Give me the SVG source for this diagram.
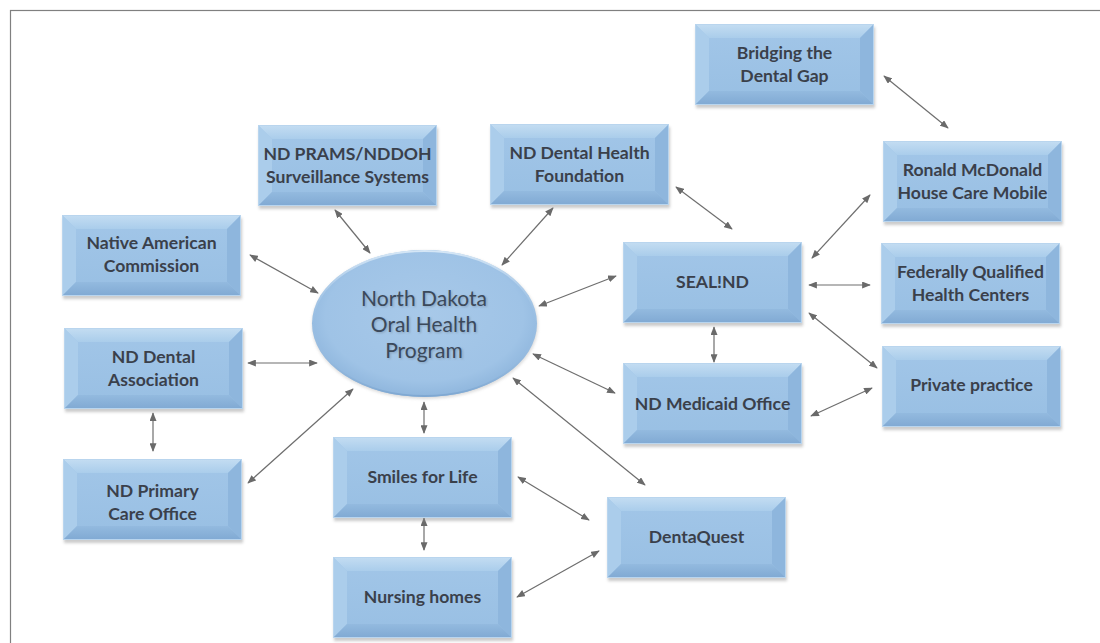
<svg xmlns="http://www.w3.org/2000/svg" xmlns:xlink="http://www.w3.org/1999/xlink" width="1100" height="643" viewBox="0 0 1100 643">
<style>
.lbl{font-family:Lato,"Open Sans","Liberation Sans",sans-serif;font-weight:bold;font-size:17.6px;fill:#3a404b;text-anchor:middle}
.hub{font-family:Lato,"Open Sans","Liberation Sans",sans-serif;font-size:21px;fill:#3b495b;text-anchor:middle}
.hubsh{font-family:Lato,"Open Sans","Liberation Sans",sans-serif;font-size:21px;fill:#6a7c90;opacity:0.5;text-anchor:middle}
.conn line{stroke:#6e6e6e;stroke-width:1.2;marker-start:url(#ah);marker-end:url(#ah)}
</style>
<defs>
<marker id="ah" viewBox="0 0 10 8" refX="9" refY="4" markerWidth="9" markerHeight="7" markerUnits="userSpaceOnUse" orient="auto-start-reverse">
<path d="M0,0 L10,4 L0,8 Z" fill="#6a6a6a"/>
</marker>
<filter id="sh" x="-10%" y="-10%" width="120%" height="130%"><feGaussianBlur stdDeviation="1.5"/></filter>
<filter id="tsh" x="-10%" y="-30%" width="120%" height="160%"><feGaussianBlur stdDeviation="0.8"/></filter>
<linearGradient id="gc" x1="0" y1="0" x2="0" y2="1"><stop offset="0" stop-color="#a2c6e8"/><stop offset="1" stop-color="#98bfe3"/></linearGradient>
<linearGradient id="gt" x1="0" y1="0" x2="0" y2="1"><stop offset="0" stop-color="#c4ddf2"/><stop offset="1" stop-color="#aacdeb"/></linearGradient>
<linearGradient id="gb" x1="0" y1="0" x2="0" y2="1"><stop offset="0" stop-color="#93badf"/><stop offset="1" stop-color="#80a9d3"/></linearGradient>
<radialGradient id="ge" cx="0.5" cy="0.45" r="0.55"><stop offset="0" stop-color="#a8c9e9"/><stop offset="0.8" stop-color="#9fc3e6"/><stop offset="1" stop-color="#8fb6dd"/></radialGradient>
<linearGradient id="ges" x1="0" y1="0" x2="0" y2="1"><stop offset="0" stop-color="#d6e7f6"/><stop offset="0.5" stop-color="#a9c9e8" stop-opacity="0"/><stop offset="1" stop-color="#7fa8d2"/></linearGradient>
<symbol id="box" viewBox="0 0 179 81" width="179" height="81" overflow="visible">
<rect x="1" y="3" width="179" height="81" fill="#8a8a8a" opacity="0.45" filter="url(#sh)"/>
<rect x="0" y="0" width="179" height="81" fill="url(#gc)"/>
<polygon points="0,0 179,0 165,14 14,14" fill="url(#gt)"/>
<polygon points="0,0 14,14 14,67 0,81" fill="#abcdeb"/>
<polygon points="179,0 179,81 165,67 165,14" fill="#8eb6dd"/>
<polygon points="0,81 14,67 165,67 179,81" fill="url(#gb)"/>
<rect x="0.5" y="0.5" width="178" height="80" fill="none" stroke="#b9d5ee" stroke-width="1"/>
</symbol>
</defs>
<rect width="1100" height="643" fill="#ffffff"/>
<rect x="10.5" y="10.5" width="1100" height="700" fill="none" stroke="#808080" stroke-width="1.2"/>

<g class="conn" id="connectors">
<line x1="335" y1="210" x2="370" y2="253"/>
<line x1="250" y1="255" x2="318" y2="293"/>
<line x1="553" y1="208" x2="502" y2="265"/>
<line x1="539" y1="306" x2="616" y2="276"/>
<line x1="533" y1="354" x2="615" y2="393"/>
<line x1="513" y1="378" x2="645" y2="485"/>
<line x1="424" y1="402" x2="424" y2="433"/>
<line x1="353" y1="389" x2="248" y2="483"/>
<line x1="248" y1="363" x2="317" y2="363"/>
<line x1="153" y1="413" x2="153" y2="451"/>
<line x1="424" y1="518" x2="424" y2="550"/>
<line x1="518" y1="477" x2="589" y2="520"/>
<line x1="517" y1="597" x2="599" y2="551"/>
<line x1="676" y1="187" x2="732" y2="229"/>
<line x1="884" y1="76" x2="948" y2="128"/>
<line x1="812" y1="258" x2="870" y2="195"/>
<line x1="809" y1="285" x2="870" y2="285"/>
<line x1="809" y1="313" x2="877" y2="368"/>
<line x1="714" y1="327" x2="714" y2="362"/>
<line x1="811" y1="416" x2="872" y2="388"/>
</g>

<g id="hub">
<ellipse cx="425" cy="325" rx="113" ry="74" fill="#9a9a9a" opacity="0.35" filter="url(#sh)"/>
<ellipse cx="424.5" cy="323.5" rx="112.5" ry="73.5" fill="url(#ge)"/>
<ellipse cx="424.5" cy="323.5" rx="111.5" ry="72.5" fill="none" stroke="url(#ges)" stroke-width="2"/>
<g filter="url(#tsh)">
<text class="hubsh" x="425.2" y="307.2">North Dakota</text>
<text class="hubsh" x="425.2" y="333.2">Oral Health</text>
<text class="hubsh" x="425.2" y="359.2">Program</text>
</g>
<text class="hub" x="424" y="306">North Dakota</text>
<text class="hub" x="424" y="332">Oral Health</text>
<text class="hub" x="424" y="358">Program</text>
</g>

<g id="bridging"><use xlink:href="#box" x="695" y="24"/><text class="lbl" x="784.5" y="59">Bridging the</text><text class="lbl" x="784.5" y="82">Dental Gap</text></g>
<g id="ronald"><use xlink:href="#box" x="883" y="141"/><text class="lbl" x="972.5" y="176">Ronald McDonald</text><text class="lbl" x="972.5" y="199">House Care Mobile</text></g>
<g id="fqhc"><use xlink:href="#box" x="881" y="243"/><text class="lbl" x="970.5" y="278">Federally Qualified</text><text class="lbl" x="970.5" y="301">Health Centers</text></g>
<g id="sealnd"><use xlink:href="#box" x="623" y="242"/><text class="lbl" x="712.5" y="288">SEAL!ND</text></g>
<g id="foundation"><use xlink:href="#box" x="490" y="124"/><text class="lbl" x="579.5" y="159">ND Dental Health</text><text class="lbl" x="579.5" y="182">Foundation</text></g>
<g id="prams"><use xlink:href="#box" x="258" y="125"/><text class="lbl" x="347.5" y="160">ND PRAMS/NDDOH</text><text class="lbl" x="347.5" y="183">Surveillance Systems</text></g>
<g id="native"><use xlink:href="#box" x="62" y="215"/><text class="lbl" x="151.5" y="249">Native American</text><text class="lbl" x="151.5" y="272">Commission</text></g>
<g id="dentalassoc"><use xlink:href="#box" x="64" y="328"/><text class="lbl" x="153.5" y="363">ND Dental</text><text class="lbl" x="153.5" y="386">Association</text></g>
<g id="primary"><use xlink:href="#box" x="63" y="459"/><text class="lbl" x="152.5" y="497">ND Primary</text><text class="lbl" x="152.5" y="520">Care Office</text></g>
<g id="smiles"><use xlink:href="#box" x="333" y="437"/><text class="lbl" x="422.5" y="483">Smiles for Life</text></g>
<g id="nursing"><use xlink:href="#box" x="333" y="557"/><text class="lbl" x="422.5" y="603">Nursing homes</text></g>
<g id="dentaquest"><use xlink:href="#box" x="607" y="497"/><text class="lbl" x="696.5" y="543">DentaQuest</text></g>
<g id="medicaid"><use xlink:href="#box" x="623" y="363"/><text class="lbl" x="712.5" y="410">ND Medicaid Office</text></g>
<g id="private"><use xlink:href="#box" x="882" y="346"/><text class="lbl" x="971.5" y="391">Private practice</text></g>
</svg>
